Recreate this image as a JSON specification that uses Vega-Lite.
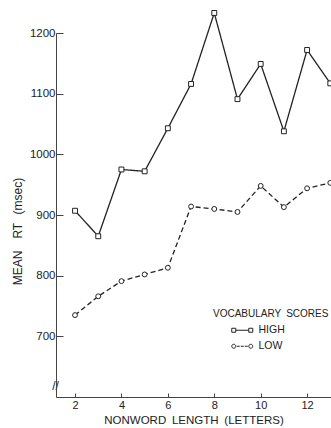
{
  "$schema": "https://vega.github.io/schema/vega-lite/v6.json",
  "width": 275,
  "height": 364,
  "autosize": "none",
  "padding": {"left": 56, "top": 33, "right": 0, "bottom": 31},
  "background": "white",
  "config": {"view": {"stroke": null}, "font": "Liberation Sans"},
  "data": {
    "values": [
      {"length": 2, "rt": 907, "vocab": "HIGH"},
      {"length": 3, "rt": 865, "vocab": "HIGH"},
      {"length": 4, "rt": 975, "vocab": "HIGH"},
      {"length": 5, "rt": 972, "vocab": "HIGH"},
      {"length": 6, "rt": 1043, "vocab": "HIGH"},
      {"length": 7, "rt": 1116, "vocab": "HIGH"},
      {"length": 8, "rt": 1233, "vocab": "HIGH"},
      {"length": 9, "rt": 1091, "vocab": "HIGH"},
      {"length": 10, "rt": 1149, "vocab": "HIGH"},
      {"length": 11, "rt": 1038, "vocab": "HIGH"},
      {"length": 12, "rt": 1172, "vocab": "HIGH"},
      {"length": 13, "rt": 1117, "vocab": "HIGH"},
      {"length": 2, "rt": 735, "vocab": "LOW"},
      {"length": 3, "rt": 766, "vocab": "LOW"},
      {"length": 4, "rt": 791, "vocab": "LOW"},
      {"length": 5, "rt": 802, "vocab": "LOW"},
      {"length": 6, "rt": 813, "vocab": "LOW"},
      {"length": 7, "rt": 914, "vocab": "LOW"},
      {"length": 8, "rt": 910, "vocab": "LOW"},
      {"length": 9, "rt": 905, "vocab": "LOW"},
      {"length": 10, "rt": 948, "vocab": "LOW"},
      {"length": 11, "rt": 913, "vocab": "LOW"},
      {"length": 12, "rt": 944, "vocab": "LOW"},
      {"length": 13, "rt": 953, "vocab": "LOW"}
    ]
  },
  "resolve": {"scale": {"shape": "independent"}},
  "layer": [
    {
      "mark": {"type": "line", "color": "#222", "strokeWidth": 1.3},
      "encoding": {
        "x": {
          "field": "length", "type": "quantitative",
          "scale": {"domain": [1.18, 13.03], "nice": false, "zero": false},
          "axis": {
            "values": [2, 3, 4, 5, 6, 7, 8, 9, 10, 11, 12, 13],
            "labelExpr": "datum.value % 2 == 0 ? datum.label : ''",
            "grid": false,
            "domainColor": "#444", "tickColor": "#444",
            "tickSize": -4,
            "labelPadding": 6,
            "labelFont": "Liberation Sans", "labelFontSize": 11, "labelColor": "#222",
            "title": "NONWORD\u2002LENGTH\u2002(LETTERS)",
            "titleFont": "Liberation Sans", "titleFontSize": 11.5, "titleFontWeight": "normal", "titleColor": "#222",
            "titlePadding": 4
          }
        },
        "y": {
          "field": "rt", "type": "quantitative",
          "scale": {"domain": [600, 1200], "nice": false, "zero": false},
          "axis": {
            "values": [619, 700, 800, 900, 1000, 1100, 1200],
            "format": "d",
            "labelExpr": "datum.value < 650 ? '//' : datum.label",
            "grid": false,
            "domainColor": "#444", "tickColor": "#444",
            "tickSize": -7,
            "tickOpacity": {"condition": {"test": "datum.value < 650", "value": 0}, "value": 1},
            "labelAlign": {"condition": {"test": "datum.value < 650", "value": "center"}, "value": "right"},
            "labelFontSize": {"condition": {"test": "datum.value < 650", "value": 12}, "value": 11.5},
            "labelPadding": 8,
            "labelFont": "Liberation Sans", "labelColor": "#222",
            "title": "MEAN\u2003RT\u2002\u2009(msec)",
            "titleX": -39, "titleY": 198, "titleAngle": -90,
            "titleAlign": "center", "titleBaseline": "middle",
            "titleFont": "Liberation Sans", "titleFontSize": 12, "titleFontWeight": "normal", "titleColor": "#222"
          }
        },
        "strokeDash": {
          "field": "vocab", "type": "nominal",
          "scale": {"domain": ["HIGH", "LOW"], "range": [[1, 0], [5, 3]]},
          "legend": null
        }
      }
    },
    {
      "mark": {"type": "point", "filled": false, "fill": "white", "stroke": "#222", "strokeWidth": 1, "opacity": 1, "size": 24},
      "encoding": {
        "x": {"field": "length", "type": "quantitative"},
        "y": {"field": "rt", "type": "quantitative"},
        "shape": {
          "field": "vocab", "type": "nominal",
          "scale": {"domain": ["HIGH", "LOW"], "range": ["square", "circle"]},
          "legend": null
        }
      }
    },
    {
      "mark": {"type": "point", "filled": false, "opacity": 0},
      "encoding": {
        "x": {"field": "length", "type": "quantitative"},
        "y": {"field": "rt", "type": "quantitative"},
        "shape": {
          "field": "vocab", "type": "nominal",
          "scale": {"domain": ["HIGH", "LOW"], "range": ["M-10.5,-2h4v4h-4zM-6.5,0H6.5M6.5,-2h4v4h-4z", "M-6.5,0a2,2 0 1,1 -4,0a2,2 0 1,1 4,0M-5.5,0h3M-1.5,0h3M2.5,0h3M10.5,0a2,2 0 1,1 -4,0a2,2 0 1,1 4,0"]},
          "legend": {
            "title": "VOCABULARY\u2002SCORES",
            "orient": "none", "legendX": 157, "legendY": 276,
            "padding": 0,
            "titleFont": "Liberation Sans", "titleFontSize": 10, "titleFontWeight": "normal", "titleColor": "#222",
            "titlePadding": 6,
            "labelFont": "Liberation Sans", "labelFontSize": 10.5, "labelColor": "#222",
            "labelOffset": 11,
            "symbolOffset": 24,
            "symbolSize": 4,
            "symbolOpacity": 1,
            "symbolStrokeWidth": 1,
            "symbolStrokeColor": "#222",
            "symbolFillColor": "transparent",
            "rowPadding": 5
          }
        }
      }
    }
  ]
}
